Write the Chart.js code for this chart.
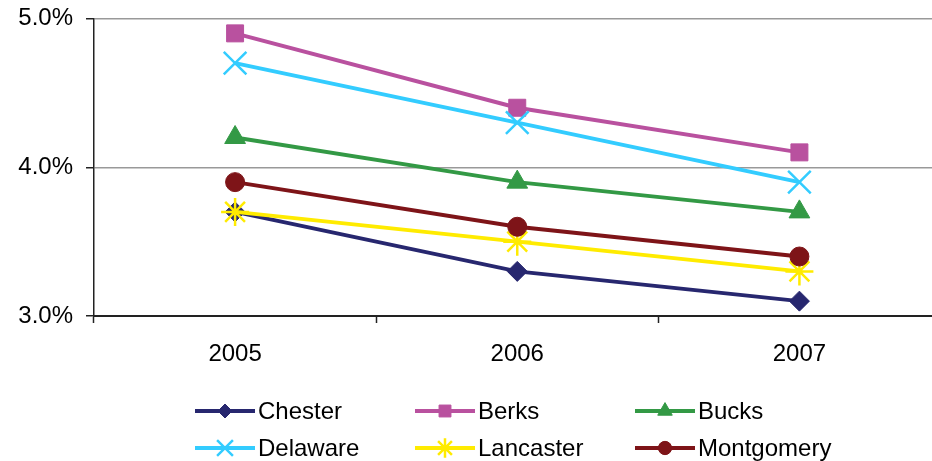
<!DOCTYPE html>
<html>
<head>
<meta charset="utf-8">
<script src="https://cdn.jsdelivr.net/npm/chart.js@4/dist/chart.umd.min.js"></script>
<style>
  html, body { margin: 0; padding: 0; background: #fff; overflow: hidden; }
  #wrap { width: 959px; height: 461px; position: relative; }
</style>
</head>
<body>
<div id="wrap"><canvas id="myCanvas"></canvas></div>
<script>
var years = ["2005", "2006", "2007"]
var yTicks = [3.0, 4.0, 5.0]

var chester = [3.7, 3.3, 3.1]
var berks = [4.9, 4.4, 4.1]
var bucks = [4.2, 3.9, 3.7]
var delaware = [4.7, 4.3, 3.9]
var lancaster = [3.7, 3.5, 3.3]
var montgomery = [3.9, 3.6, 3.4]

var names = ["Chester", "Berks", "Bucks", "Delaware", "Lancaster", "Montgomery"]
var series = [chester, berks, bucks, delaware, lancaster, montgomery]
var colors = ['#27276f', '#b9519f', '#339945', '#33ccff', '#ffeb00', '#7e1418']
var styles = ['rectRot', 'rect', 'triangle', 'crossRot', 'star', 'circle']
var radii = [10, 12, 12, 16, 14, 9.5]
var borders = [1, 1, 1, 2.5, 2.5, 1]

var font = "'Liberation Sans', Arial, sans-serif"

var datasets = series.map(function (vals, i) {
    return {
        label: names[i],
        data: vals,
        borderColor: colors[i],
        backgroundColor: colors[i],
        borderWidth: 4,
        pointStyle: styles[i],
        pointRadius: radii[i],
        pointBackgroundColor: colors[i],
        pointBorderColor: colors[i],
        pointBorderWidth: borders[i],
        tension: 0,
        clip: false,
        order: names.length - i
    }
})

// legend in 3 columns, drawn under the plot
var gridLegend = {
    id: 'gridLegend',
    afterDraw: function (chart) {
        var ctx = chart.ctx
        var colX = [195, 415, 635]
        var rowY = [411, 448]
        ctx.save()
        datasets.forEach(function (ds, i) {
            var x = colX[i % 3]
            var y = rowY[Math.floor(i / 3)]
            ctx.strokeStyle = ds.borderColor
            ctx.lineWidth = 4
            ctx.beginPath()
            ctx.moveTo(x, y)
            ctx.lineTo(x + 60, y)
            ctx.stroke()
            ctx.fillStyle = ds.borderColor
            ctx.lineWidth = ds.pointBorderWidth
            Chart.helpers.drawPoint(ctx, {
                pointStyle: ds.pointStyle,
                radius: ds.pointRadius * 0.7,
                rotation: 0,
                borderWidth: ds.pointBorderWidth
            }, x + 30, y)
            ctx.fillStyle = '#000'
            ctx.font = '24px ' + font
            ctx.textAlign = 'left'
            ctx.textBaseline = 'middle'
            ctx.fillText(ds.label, x + 63, y + 1)
        })
        ctx.restore()
    }
}

var ctx = document.getElementById("myCanvas")
var myChart = new Chart(ctx, {
    type: 'line',
    data: {
        labels: years,
        datasets: datasets
    },
    options: {
        responsive: true,
        maintainAspectRatio: false,
        animation: false,
        layout: { padding: { top: 18, left: 0, right: 0, bottom: 95 } },
        plugins: {
            legend: { display: false },
            tooltip: { enabled: false }
        },
        scales: {
            x: {
                offset: true,
                afterFit: function (scale) { scale.height = 50 },
                grid: {
                    offset: true,
                    drawOnChartArea: false,
                    drawTicks: true,
                    tickLength: 7,
                    tickColor: '#222',
                    tickWidth: 1.5
                },
                border: { color: '#222', width: 2 },
                ticks: {
                    color: '#000',
                    padding: 17,
                    font: { family: font, size: 24 }
                }
            },
            y: {
                min: 3,
                max: 5,
                afterFit: function (scale) {
                    scale.width = 94
                    scale.paddingTop = 0
                    scale.paddingBottom = 0
                },
                afterBuildTicks: function (scale) {
                    scale.ticks = yTicks.map(function (v) { return { value: v } })
                },
                grid: {
                    color: '#999',
                    lineWidth: 1.5,
                    tickLength: 8,
                    tickColor: '#222',
                    tickWidth: 1.5
                },
                border: { color: '#222', width: 1.5 },
                ticks: {
                    color: '#000',
                    padding: 13,
                    font: { family: font, size: 24 },
                    callback: function (v) { return v.toFixed(1) + '%' }
                }
            }
        }
    },
    plugins: [gridLegend]
})
</script>
</body>
</html>
